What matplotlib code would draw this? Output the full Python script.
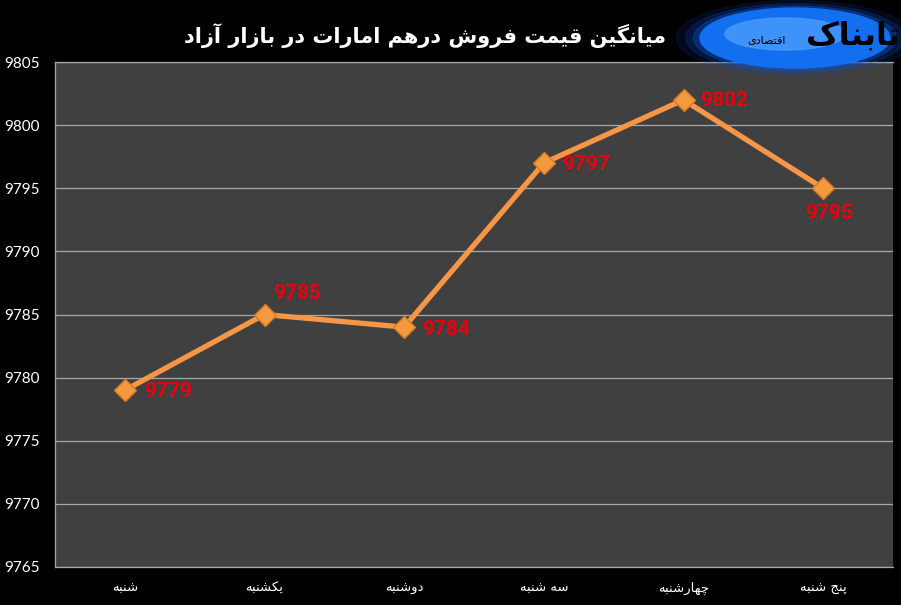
import matplotlib
matplotlib.use('Agg')
import matplotlib.pyplot as plt
from matplotlib.patches import Ellipse

# chart data
days = ['شنبه', 'یکشنبه', 'دوشنبه', 'سه شنبه', 'چهارشنبه', 'پنج شنبه']
prices = [9779, 9785, 9784, 9797, 9802, 9795]
title_text = 'میانگین قیمت فروش درهم امارات در بازار آزاد'
yticks = [9765, 9770, 9775, 9780, 9785, 9790, 9795, 9800, 9805]
# label offsets (pixels) from each point
lab_dx = [19, 9, 18, 18, 17, 6]
lab_dy = [-1, 21, -2, -1, -1, -25]
lab_ha = ['left', 'left', 'left', 'left', 'left', 'center']

# matplotlib does no arabic shaping -> pick presentation forms by hand
# (isolated, final, initial, medial); None initial = letter doesn't join forward
forms = {
    'ا': ('\uFE8D', '\uFE8E', None, None),
    'آ': ('\uFE81', '\uFE82', None, None),
    'ب': ('\uFE8F', '\uFE90', '\uFE91', '\uFE92'),
    'پ': ('\uFB56', '\uFB57', '\uFB58', '\uFB59'),
    'ت': ('\uFE95', '\uFE96', '\uFE97', '\uFE98'),
    'ج': ('\uFE9D', '\uFE9E', '\uFE9F', '\uFEA0'),
    'چ': ('\uFB7A', '\uFB7B', '\uFB7C', '\uFB7D'),
    'د': ('\uFEA9', '\uFEAA', None, None),
    'ر': ('\uFEAD', '\uFEAE', None, None),
    'ز': ('\uFEAF', '\uFEB0', None, None),
    'س': ('\uFEB1', '\uFEB2', '\uFEB3', '\uFEB4'),
    'ش': ('\uFEB5', '\uFEB6', '\uFEB7', '\uFEB8'),
    'ص': ('\uFEB9', '\uFEBA', '\uFEBB', '\uFEBC'),
    'ف': ('\uFED1', '\uFED2', '\uFED3', '\uFED4'),
    'ق': ('\uFED5', '\uFED6', '\uFED7', '\uFED8'),
    'ک': ('\uFB8E', '\uFB8F', '\uFB90', '\uFB91'),
    'گ': ('\uFB92', '\uFB93', '\uFB94', '\uFB95'),
    'م': ('\uFEE1', '\uFEE2', '\uFEE3', '\uFEE4'),
    'ن': ('\uFEE5', '\uFEE6', '\uFEE7', '\uFEE8'),
    'ه': ('\uFEE9', '\uFEEA', '\uFEEB', '\uFEEC'),
    'و': ('\uFEED', '\uFEEE', None, None),
    'ی': ('\uFBFC', '\uFBFD', '\uFBFE', '\uFBFF'),
}


def fa(text):
    out = []
    for i, c in enumerate(text):
        if c not in forms:
            out.append(c)
            continue
        prev = text[i - 1] if i > 0 else None
        nxt = text[i + 1] if i + 1 < len(text) else None
        jp = prev in forms and forms[prev][2] is not None
        jn = nxt in forms and forms[c][2] is not None
        iso, fin, ini, med = forms[c]
        if jp and jn:
            out.append(med)
        elif jp:
            out.append(fin)
        elif jn:
            out.append(ini)
        else:
            out.append(iso)
    return ''.join(out)[::-1]


fig = plt.figure(figsize=(9.01, 6.05), dpi=100, facecolor='black')
ax = fig.add_axes([55/901, 38/605, 838/901, 505/605])
ax.set_facecolor('#404040')

x = list(range(len(days)))
ax.plot(x, prices, color='#F79646', lw=3.8, zorder=3, solid_joinstyle='miter')
ax.plot(x, prices, 'D', ms=11, mfc='#F39A3E', mec='#D87A22', mew=1, zorder=4)

for i in x:
    ax.annotate(str(prices[i]), (i, prices[i]), xytext=(lab_dx[i], lab_dy[i]),
                textcoords='offset pixels', ha=lab_ha[i], va='center',
                color='#E8000E', fontsize=15, fontweight='bold', family='Roboto', zorder=5)

ax.set_xlim(-0.5, 5.5)
ax.set_ylim(9765, 9805)
ax.set_yticks(yticks)
ax.set_xticks(x)
ax.set_xticklabels([fa(d) for d in days], family='DejaVu Sans', fontsize=9.5, color='white')
for lab in ax.get_yticklabels():
    lab.set_family('Lato')
ax.tick_params(axis='y', length=0, pad=11, labelsize=11, labelcolor='white')
ax.tick_params(axis='x', length=0, pad=11)
ax.grid(axis='y', color='#A8A8A8', lw=0.9)
ax.set_axisbelow(True)
for s in ['left', 'bottom', 'top']:
    ax.spines[s].set_color('#A8A8A8')
    ax.spines[s].set_linewidth(0.9)
ax.spines['right'].set_visible(False)

fig.text(425/901, 1 - 36/605, fa(title_text), ha='center', va='center', color='white',
         fontsize=15, fontweight='bold', family='DejaVu Sans')

# logo: glowing blue ellipse with black wordmark
for k, a in [(1.25, 0.12), (1.15, 0.2), (1.07, 0.35)]:
    fig.patches.append(Ellipse((795/901, 1 - 38/605), 190/901*k, 60/605*k,
                               transform=fig.transFigure, color='#0a50d0', alpha=a, zorder=1))
fig.patches.append(Ellipse((795/901, 1 - 38/605), 190/901, 60/605,
                           transform=fig.transFigure, color='#1270F0', zorder=2))
fig.patches.append(Ellipse((785/901, 1 - 34/605), 120/901, 32/605,
                           transform=fig.transFigure, color='#4A9CFF', alpha=0.8, zorder=2))
fig.text(900/901, 1 - 36/605, fa('تابناک'), ha='right', va='center', color='black',
         fontsize=23, fontweight='bold', family='DejaVu Sans', zorder=5)
fig.text(766/901, 1 - 40/605, fa('اقتصادی'), ha='center', va='center', color='black',
         fontsize=8, family='DejaVu Sans', zorder=5)

fig.savefig('out.png', dpi=100, facecolor='black')
